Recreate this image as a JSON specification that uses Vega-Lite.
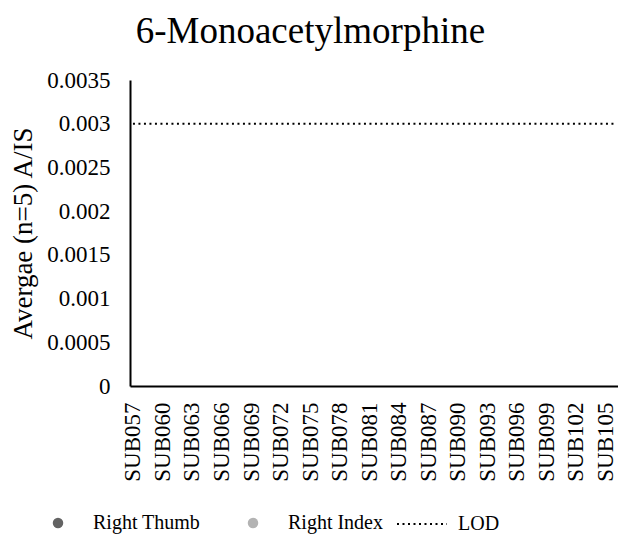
{
  "$schema": "https://vega.github.io/schema/vega-lite/v6.json",
  "autosize": {"type": "none"},
  "width": 488,
  "height": 306,
  "padding": {"left": 130, "top": 80, "right": 0, "bottom": 149},
  "background": "white",
  "title": {
    "text": "6-Monoacetylmorphine",
    "font": "Times New Roman, Liberation Serif, serif",
    "fontSize": 37,
    "fontWeight": "normal",
    "color": "#000000",
    "anchor": "middle",
    "frame": "bounds",
    "offset": 18,
    "dx": -8
  },
  "config": {
    "view": {"stroke": null},
    "font": "Times New Roman, Liberation Serif, serif",
    "axis": {
      "labelFont": "Times New Roman, Liberation Serif, serif",
      "titleFont": "Times New Roman, Liberation Serif, serif",
      "labelColor": "#000000",
      "titleColor": "#000000"
    },
    "legend": {
      "labelFont": "Times New Roman, Liberation Serif, serif",
      "labelColor": "#000000"
    },
    "title": {"font": "Times New Roman, Liberation Serif, serif"}
  },
  "data": {
    "values": [
      {"subject": "SUB057", "Right Thumb": null, "Right Index": null, "LOD": 0.003},
      {"subject": "SUB058", "Right Thumb": null, "Right Index": null, "LOD": 0.003},
      {"subject": "SUB059", "Right Thumb": null, "Right Index": null, "LOD": 0.003},
      {"subject": "SUB060", "Right Thumb": null, "Right Index": null, "LOD": 0.003},
      {"subject": "SUB061", "Right Thumb": null, "Right Index": null, "LOD": 0.003},
      {"subject": "SUB062", "Right Thumb": null, "Right Index": null, "LOD": 0.003},
      {"subject": "SUB063", "Right Thumb": null, "Right Index": null, "LOD": 0.003},
      {"subject": "SUB064", "Right Thumb": null, "Right Index": null, "LOD": 0.003},
      {"subject": "SUB065", "Right Thumb": null, "Right Index": null, "LOD": 0.003},
      {"subject": "SUB066", "Right Thumb": null, "Right Index": null, "LOD": 0.003},
      {"subject": "SUB067", "Right Thumb": null, "Right Index": null, "LOD": 0.003},
      {"subject": "SUB068", "Right Thumb": null, "Right Index": null, "LOD": 0.003},
      {"subject": "SUB069", "Right Thumb": null, "Right Index": null, "LOD": 0.003},
      {"subject": "SUB070", "Right Thumb": null, "Right Index": null, "LOD": 0.003},
      {"subject": "SUB071", "Right Thumb": null, "Right Index": null, "LOD": 0.003},
      {"subject": "SUB072", "Right Thumb": null, "Right Index": null, "LOD": 0.003},
      {"subject": "SUB073", "Right Thumb": null, "Right Index": null, "LOD": 0.003},
      {"subject": "SUB074", "Right Thumb": null, "Right Index": null, "LOD": 0.003},
      {"subject": "SUB075", "Right Thumb": null, "Right Index": null, "LOD": 0.003},
      {"subject": "SUB076", "Right Thumb": null, "Right Index": null, "LOD": 0.003},
      {"subject": "SUB077", "Right Thumb": null, "Right Index": null, "LOD": 0.003},
      {"subject": "SUB078", "Right Thumb": null, "Right Index": null, "LOD": 0.003},
      {"subject": "SUB079", "Right Thumb": null, "Right Index": null, "LOD": 0.003},
      {"subject": "SUB080", "Right Thumb": null, "Right Index": null, "LOD": 0.003},
      {"subject": "SUB081", "Right Thumb": null, "Right Index": null, "LOD": 0.003},
      {"subject": "SUB082", "Right Thumb": null, "Right Index": null, "LOD": 0.003},
      {"subject": "SUB083", "Right Thumb": null, "Right Index": null, "LOD": 0.003},
      {"subject": "SUB084", "Right Thumb": null, "Right Index": null, "LOD": 0.003},
      {"subject": "SUB085", "Right Thumb": null, "Right Index": null, "LOD": 0.003},
      {"subject": "SUB086", "Right Thumb": null, "Right Index": null, "LOD": 0.003},
      {"subject": "SUB087", "Right Thumb": null, "Right Index": null, "LOD": 0.003},
      {"subject": "SUB088", "Right Thumb": null, "Right Index": null, "LOD": 0.003},
      {"subject": "SUB089", "Right Thumb": null, "Right Index": null, "LOD": 0.003},
      {"subject": "SUB090", "Right Thumb": null, "Right Index": null, "LOD": 0.003},
      {"subject": "SUB091", "Right Thumb": null, "Right Index": null, "LOD": 0.003},
      {"subject": "SUB092", "Right Thumb": null, "Right Index": null, "LOD": 0.003},
      {"subject": "SUB093", "Right Thumb": null, "Right Index": null, "LOD": 0.003},
      {"subject": "SUB094", "Right Thumb": null, "Right Index": null, "LOD": 0.003},
      {"subject": "SUB095", "Right Thumb": null, "Right Index": null, "LOD": 0.003},
      {"subject": "SUB096", "Right Thumb": null, "Right Index": null, "LOD": 0.003},
      {"subject": "SUB097", "Right Thumb": null, "Right Index": null, "LOD": 0.003},
      {"subject": "SUB098", "Right Thumb": null, "Right Index": null, "LOD": 0.003},
      {"subject": "SUB099", "Right Thumb": null, "Right Index": null, "LOD": 0.003},
      {"subject": "SUB100", "Right Thumb": null, "Right Index": null, "LOD": 0.003},
      {"subject": "SUB101", "Right Thumb": null, "Right Index": null, "LOD": 0.003},
      {"subject": "SUB102", "Right Thumb": null, "Right Index": null, "LOD": 0.003},
      {"subject": "SUB103", "Right Thumb": null, "Right Index": null, "LOD": 0.003},
      {"subject": "SUB104", "Right Thumb": null, "Right Index": null, "LOD": 0.003},
      {"subject": "SUB105", "Right Thumb": null, "Right Index": null, "LOD": 0.003},
      {"subject": "SUB106", "Right Thumb": null, "Right Index": null, "LOD": 0.003}
    ]
  },
  "encoding": {
    "x": {
      "field": "subject",
      "type": "nominal",
      "sort": null,
      "scale": {"type": "point", "padding": 0.3},
      "axis": {
        "title": null,
        "labelAngle": -90,
        "labelAlign": "right",
        "labelBaseline": "middle",
        "labelFont": "Times New Roman, Liberation Serif, serif",
        "labelFontSize": 23,
        "labelColor": "#000000",
        "labelPadding": 16,
        "labelOverlap": false,
        "labelExpr": "(toNumber(substring(datum.value, 3)) - 57) % 3 === 0 ? datum.value : ''",
        "ticks": false,
        "domainColor": "#000000",
        "domainWidth": 2,
        "grid": false
      }
    }
  },
  "layer": [
    {
      "transform": [{"fold": ["Right Thumb", "Right Index"], "as": ["series", "value"]}],
      "mark": {"type": "point", "filled": true, "size": 110, "opacity": 1},
      "encoding": {
        "y": {
          "field": "value",
          "type": "quantitative",
          "scale": {"domain": [0, 0.0035], "nice": false, "zero": true},
          "axis": {
            "title": "Avergae (n=5) A/IS",
            "titleFont": "Times New Roman, Liberation Serif, serif",
            "titleFontSize": 27,
            "titleFontWeight": "normal",
            "titleColor": "#000000",
            "titlePadding": 9,
            "values": [0, 0.0005, 0.001, 0.0015, 0.002, 0.0025, 0.003, 0.0035],
            "format": "~f",
            "labelFont": "Times New Roman, Liberation Serif, serif",
            "labelFontSize": 23,
            "labelColor": "#000000",
            "labelPadding": 20,
            "ticks": false,
            "grid": false,
            "domainColor": "#000000",
            "domainWidth": 2
          }
        },
        "color": {
          "field": "series",
          "type": "nominal",
          "scale": {"domain": ["Right Thumb", "Right Index"], "range": ["#636363", "#b3b3b3"]},
          "legend": {
            "title": null,
            "orient": "none",
            "legendX": -82,
            "legendY": 433,
            "direction": "horizontal",
            "symbolType": "circle",
            "symbolSize": 110,
            "symbolStrokeWidth": 0,
            "labelFont": "Times New Roman, Liberation Serif, serif",
            "labelFontSize": 20,
            "labelColor": "#000000",
            "labelOffset": 25,
            "columnPadding": 42,
            "padding": 0
          }
        }
      }
    },
    {
      "mark": {"type": "line", "color": "#000000", "strokeWidth": 2},
      "encoding": {
        "y": {"field": "LOD", "type": "quantitative"},
        "strokeDash": {
          "datum": "LOD",
          "type": "nominal",
          "scale": {"domain": ["LOD"], "range": [[2, 3.5]]},
          "legend": {
            "title": null,
            "orient": "none",
            "legendX": 266,
            "legendY": 418,
            "symbolType": "stroke",
            "symbolSize": 2500,
            "symbolStrokeWidth": 2,
            "symbolStrokeColor": "#000000",
            "labelFont": "Times New Roman, Liberation Serif, serif",
            "labelFontSize": 20,
            "labelColor": "#000000",
            "labelOffset": 10,
            "padding": 0
          }
        }
      }
    }
  ]
}
